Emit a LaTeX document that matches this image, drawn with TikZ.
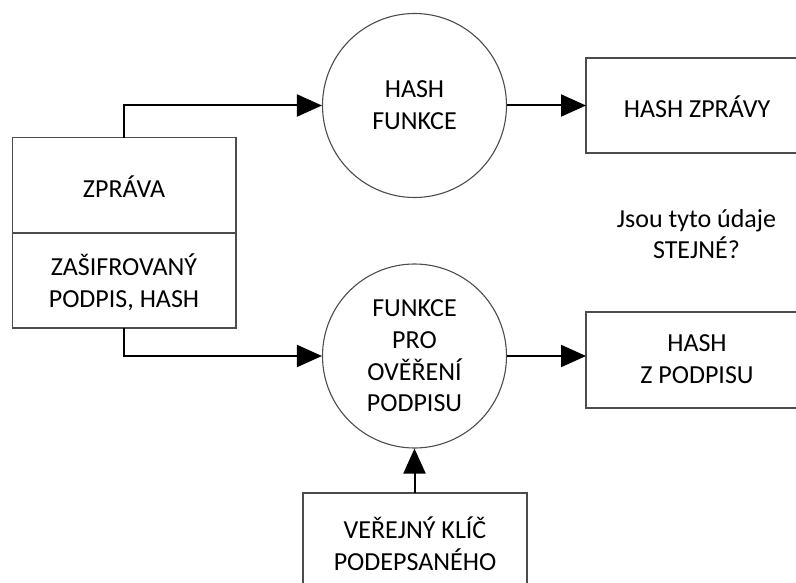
\documentclass[tikz,border=0pt]{standalone}
\usepackage{fontspec}
\setmainfont{Carlito}
\usetikzlibrary{arrows.meta}
\begin{document}
\begin{tikzpicture}[x=1pt,y=-1pt,
  box/.style={draw=black!70,line width=1.1pt},
  func/.style={circle,draw=black!70,line width=1.1pt,minimum size=184pt,inner sep=0pt},
  lbl/.style={align=center,font=\fontsize{26}{31.7}\selectfont,inner sep=0pt},
  flow/.style={line width=2pt,-{Triangle[length=25pt,width=22pt]}}]
\useasboundingbox (0,0) rectangle (796,583);
\clip (0,0) rectangle (796,583);
% message block, split in two parts
\draw[box] (12.7,137.7) rectangle (236,328);
\draw[box] (12.7,233) -- (236,233);
\coordinate (msgtop) at (124,137.7);
\coordinate (msgbot) at (124,328);
\node[lbl] (zprava) at (124,186.5) {ZPRÁVA};
\node[lbl] (podpis) at (124,282) {ZAŠIFROVANÝ\\PODPIS, HASH};
% processing functions
\node[func] (hashf) at (414.5,105.5) {};
\node[lbl] at (hashf.center) {HASH\\FUNKCE};
\node[func] (verf) at (414.5,356) {};
\node[lbl] at (verf.center) {FUNKCE\\PRO\\OVĚŘENÍ\\PODPISU};
% result boxes on the right (open towards the edge)
\draw[box] (586,58) rectangle (820,153);
\coordinate (hzin) at (586,105.5);
\node[lbl] (hz) at (697,107) {HASH ZPRÁVY};
\draw[box] (586,312) rectangle (820,408);
\coordinate (hpin) at (586,356);
\node[lbl] (hp) at (697,359) {HASH\\Z PODPISU};
% public key box at the bottom
\draw[box] (303,493) rectangle (527,620);
\coordinate (keytop) at (414.5,493);
\node[lbl] (key) at (415,544) {VEŘEJNÝ KLÍČ\\PODEPSANÉHO};
% question
\node[lbl] (q) at (696.5,234) {Jsou tyto údaje\\STEJNÉ?};
% connectors
\draw[flow] (msgtop) |- (hashf.west);
\draw[flow] (msgbot) |- (verf.west);
\draw[flow] (hashf.east) -- (hzin);
\draw[flow] (verf.east) -- (hpin);
\draw[flow] (keytop) -- (verf.south);
\end{tikzpicture}
\end{document}
